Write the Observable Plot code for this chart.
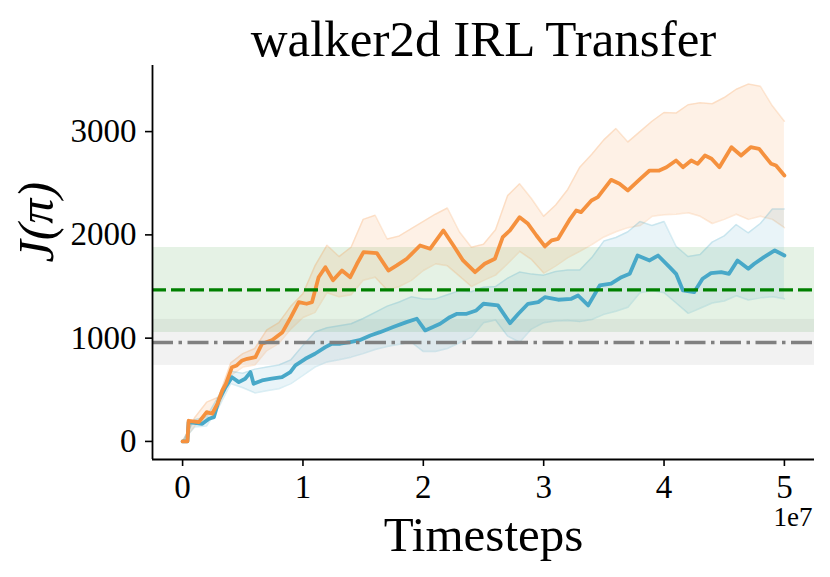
<!DOCTYPE html>
<html>
<head>
<meta charset="utf-8">
<script src="https://cdn.jsdelivr.net/npm/d3@7"></script>
<script src="https://cdn.jsdelivr.net/npm/@observablehq/plot@0.6"></script>
<style>
  html, body { margin: 0; padding: 0; background: white; }
  #chart svg { display: block; }
</style>
</head>
<body>
<div id="chart"></div>
<script>
// ---- data (x in units of 1e7 timesteps) ----
const titleText = "walker2d IRL Transfer";
const xLabel = "Timesteps";
const yLabel = "J(π)";
const xOffsetLabel = "1e7";
const xTicks = [0, 1, 2, 3, 4, 5];
const yTicks = [0, 1000, 2000, 3000];
const xDomain = [-0.25, 5.25];
const yDomain = [-175, 3640];

const orangeMeanX = [0,0.04,0.05,0.135,0.2,0.246,0.29,0.33,0.36,0.41,0.45,0.495,0.537,0.605,0.66,0.74,0.83,0.9,0.965,1.03,1.075,1.13,1.186,1.25,1.324,1.393,1.449,1.503,1.614,1.71,1.78,1.863,1.973,2.056,2.167,2.25,2.33,2.43,2.51,2.595,2.66,2.72,2.8,2.87,2.94,3.01,3.066,3.12,3.22,3.27,3.31,3.397,3.45,3.56,3.63,3.7,3.8,3.88,3.96,4.02,4.1,4.157,4.226,4.28,4.34,4.395,4.46,4.56,4.64,4.72,4.79,4.89,4.93,5.0];
const orangeMeanY = [0,0,200,187,284,268,365,494,558,719,736,784,800,816,946,978,1058,1203,1348,1333,1348,1590,1687,1560,1655,1590,1720,1833,1823,1655,1704,1769,1897,1865,2043,1897,1752,1639,1720,1769,1978,2043,2171,2107,1994,1888,1946,1962,2156,2236,2220,2333,2365,2533,2495,2430,2540,2623,2623,2655,2720,2655,2720,2688,2769,2737,2655,2849,2769,2849,2833,2688,2672,2575];

const blueMeanX = [0,0.04,0.05,0.163,0.22,0.26,0.3,0.357,0.41,0.467,0.52,0.564,0.59,0.66,0.74,0.826,0.895,0.937,1.02,1.1,1.186,1.24,1.31,1.393,1.47,1.56,1.64,1.75,1.86,1.946,2.015,2.08,2.14,2.22,2.28,2.36,2.44,2.5,2.62,2.72,2.79,2.87,2.955,3.01,3.12,3.23,3.286,3.37,3.466,3.56,3.646,3.715,3.78,3.88,3.95,4.046,4.1,4.157,4.25,4.32,4.39,4.475,4.54,4.61,4.7,4.75,4.83,4.92,5.0];
const blueMeanY = [0,0,187,171,220,235,397,526,622,574,607,671,558,590,607,622,671,736,800,849,913,946,946,961,980,1026,1058,1107,1155,1188,1075,1107,1139,1203,1236,1236,1268,1333,1317,1145,1236,1333,1349,1397,1372,1381,1413,1317,1510,1527,1590,1623,1800,1752,1800,1687,1623,1462,1445,1575,1629,1639,1623,1752,1672,1720,1784,1849,1800];

const bandX = [0,0.1,0.2,0.3,0.4,0.5,0.6,0.7,0.8,0.9,1.0,1.1,1.2,1.3,1.4,1.5,1.6,1.7,1.8,1.9,2.0,2.1,2.2,2.3,2.4,2.5,2.6,2.7,2.8,2.9,3.0,3.1,3.2,3.3,3.4,3.5,3.6,3.7,3.8,3.9,4.0,4.1,4.2,4.3,4.4,4.5,4.6,4.7,4.8,4.9,5.0];
const orangeHi = [0,230,380,430,760,850,900,1080,1150,1310,1430,1700,1900,1790,1880,2150,2190,1960,1990,2060,2130,2200,2260,2030,1880,1910,2050,2380,2495,2350,2180,2290,2440,2655,2780,2920,3030,2900,3000,3100,3185,3180,3260,3280,3270,3330,3410,3460,3440,3250,3100];
const orangeLo = [0,150,230,340,640,720,740,880,950,1090,1200,1250,1440,1400,1420,1560,1590,1465,1500,1560,1655,1720,1700,1600,1500,1560,1610,1720,1840,1760,1630,1700,1780,1840,1905,1980,2030,2070,2090,2180,2195,2200,2215,2180,2110,2150,2200,2150,2180,2150,2070];
const blueHi = [0,210,240,440,680,660,700,720,740,790,930,1060,1100,1120,1140,1190,1250,1310,1350,1400,1380,1380,1420,1460,1450,1494,1500,1580,1640,1620,1610,1645,1660,1660,1780,1940,1975,2030,2130,2090,2130,1890,1790,1810,1930,1990,2100,2020,2110,2250,2250];
const blueLo = [0,140,150,330,560,520,470,490,510,560,640,719,770,790,816,850,890,920,940,960,870,870,900,955,1010,1150,1175,1020,960,1090,1150,1165,1170,1160,1180,1230,1260,1300,1440,1462,1440,1340,1240,1290,1340,1360,1410,1370,1390,1400,1381];

const greenLevel = 1468;
const greenBand = [1055, 1878];
const grayLevel = 958;
const grayBand = [736, 1181];

// ---- styling ----
const orange = "#f5913e";
const blue = "#48a8c8";
const font = "Liberation Serif";

const orangeMean = orangeMeanX.map((x, i) => ({x, y: orangeMeanY[i]}));
const blueMean = blueMeanX.map((x, i) => ({x, y: blueMeanY[i]}));
const orangeBand = bandX.map((x, i) => ({x, lo: orangeLo[i], hi: orangeHi[i]}));
const blueBand = bandX.map((x, i) => ({x, lo: blueLo[i], hi: blueHi[i]}));
const spans = [
  {lo: greenBand[0], hi: greenBand[1], c: "green"},
  {lo: grayBand[0], hi: grayBand[1], c: "gray"}
];

const chart = Plot.plot({
  width: 830,
  height: 577,
  marginTop: 65,
  marginBottom: 118,
  marginLeft: 152,
  marginRight: 16,
  style: {fontFamily: font, fontSize: "32px", background: "white", color: "black"},
  x: {domain: xDomain},
  y: {domain: yDomain},
  marks: [
    Plot.rect(spans, {y1: "lo", y2: "hi", fill: "c", fillOpacity: 0.1}),
    Plot.areaY(orangeBand, {x: "x", y1: "lo", y2: "hi", fill: orange, fillOpacity: 0.13}),
    Plot.line(orangeBand, {x: "x", y: "hi", stroke: orange, strokeOpacity: 0.2, strokeWidth: 1.5}),
    Plot.line(orangeBand, {x: "x", y: "lo", stroke: orange, strokeOpacity: 0.2, strokeWidth: 1.5}),
    Plot.areaY(blueBand, {x: "x", y1: "lo", y2: "hi", fill: blue, fillOpacity: 0.12}),
    Plot.line(blueBand, {x: "x", y: "hi", stroke: blue, strokeOpacity: 0.2, strokeWidth: 1.5}),
    Plot.line(blueBand, {x: "x", y: "lo", stroke: blue, strokeOpacity: 0.2, strokeWidth: 1.5}),
    Plot.line(blueMean, {x: "x", y: "y", stroke: blue, strokeWidth: 3.8, strokeLinejoin: "round"}),
    Plot.line(orangeMean, {x: "x", y: "y", stroke: orange, strokeWidth: 3.8, strokeLinejoin: "round"}),
    Plot.ruleY([greenLevel], {stroke: "green", strokeWidth: 3.2, strokeDasharray: "14,5"}),
    Plot.ruleY([grayLevel], {stroke: "gray", strokeWidth: 3.3, strokeDasharray: "21,5.5,3.5,5.5"}),
    Plot.ruleX([xDomain[0]], {stroke: "black", strokeWidth: 1.8}),
    Plot.ruleY([yDomain[0]], {stroke: "black", strokeWidth: 1.8}),
    Plot.axisY({ticks: yTicks, tickSize: 7, tickPadding: 9, fontSize: 33, label: null, tickFormat: d => String(d), strokeWidth: 1.6}),
    Plot.axisX({ticks: xTicks, tickSize: 7, tickPadding: 8, fontSize: 33, label: null, tickFormat: d => String(d), strokeWidth: 1.6}),
    Plot.text([titleText], {text: d => d, frameAnchor: "top", dy: -10, lineAnchor: "bottom", fontSize: 51}),
    Plot.text([xLabel], {text: d => d, frameAnchor: "bottom", dy: 91, lineAnchor: "bottom", fontSize: 49}),
    Plot.text([xOffsetLabel], {text: d => d, frameAnchor: "bottom-right", dy: 66, dx: -2, lineAnchor: "bottom", textAnchor: "end", fontSize: 27}),
    Plot.text([yLabel], {text: d => d, frameAnchor: "left", rotate: -90, dx: -116, lineAnchor: "middle", fontSize: 50, fontStyle: "italic"})
  ]
});
document.getElementById("chart").appendChild(chart);
</script>
</body>
</html>
